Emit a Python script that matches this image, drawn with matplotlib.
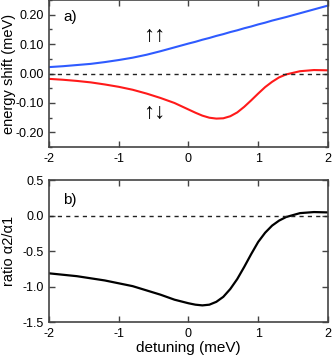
import matplotlib
matplotlib.use("Agg")
import matplotlib.pyplot as plt
from matplotlib.ticker import MultipleLocator

plt.rcParams['font.family'] = ['Liberation Sans', 'DejaVu Sans']
plt.rcParams['axes.unicode_minus'] = False

# detuning (meV)
detuning = [-2.0, -1.8, -1.6, -1.4, -1.2, -1.0, -0.8, -0.6, -0.4, -0.2,
            0.0, 0.1, 0.2, 0.3, 0.4, 0.5, 0.6, 0.7, 0.8, 0.9, 1.0, 1.1,
            1.2, 1.3, 1.4, 1.6, 1.8, 2.0]

# energy shift, parallel spins (meV)
shift_up_up = [0.022, 0.025, 0.029, 0.033, 0.039, 0.046, 0.054, 0.064, 0.076, 0.089,
               0.102, 0.108, 0.115, 0.121, 0.128, 0.134, 0.141, 0.147, 0.154, 0.160, 0.167, 0.173,
               0.180, 0.186, 0.192, 0.205, 0.218, 0.231]

# energy shift, antiparallel spins (meV)
shift_up_down = [-0.018, -0.021, -0.025, -0.030, -0.037, -0.045, -0.055, -0.068, -0.083, -0.100,
                 -0.122, -0.133, -0.143, -0.150, -0.153, -0.152, -0.145, -0.132, -0.113, -0.091, -0.068, -0.046,
                 -0.028, -0.013, -0.003, 0.008, 0.012, 0.011]

# ratio a2/a1
ratio = [-0.81, -0.83, -0.85, -0.88, -0.91, -0.95, -0.99, -1.05, -1.11, -1.18,
         -1.23, -1.25, -1.26, -1.25, -1.21, -1.14, -1.03, -0.89, -0.72, -0.54, -0.37, -0.24,
         -0.14, -0.07, -0.02, 0.035, 0.05, 0.045]

spine_col = "#444444"

fig = plt.figure(figsize=(3.32, 3.58), dpi=100)
ax1 = fig.add_axes([0.1476, 0.589, 0.840, 0.411])
ax2 = fig.add_axes([0.1476, 0.0992, 0.840, 0.3980])

ax1.plot(detuning, shift_up_up, color="#2f5bff", lw=1.5)
ax1.plot(detuning, shift_up_down, color="#ff1a1a", lw=1.5)
ax1.axhline(0, color="#222222", lw=1, ls=(0, (3, 3)))
ax1.set_ylim(-0.25, 0.25)
ax1.set_yticks([-0.2, -0.1, 0.0, 0.1, 0.2])
ax1.set_yticklabels(["-0.20", "-0.10", "0.00", "0.10", "0.20"])
ax1.yaxis.set_minor_locator(MultipleLocator(0.05))
ax1.set_ylabel("energy shift (meV)", fontsize=10.5)
ax1.yaxis.set_label_coords(-0.12, 0.5)
ax1.text(0.05, 0.86, "a)", transform=ax1.transAxes, fontsize=11)
ax1.text(-0.49, 0.128, "↑↑", fontsize=16, ha="center", va="center")
ax1.text(-0.49, -0.132, "↑↓", fontsize=16, ha="center", va="center")

ax2.plot(detuning, ratio, color="black", lw=1.6)
ax2.axhline(0, color="#222222", lw=1, ls=(0, (3, 3)))
ax2.set_ylim(-1.5, 0.5)
ax2.set_yticks([-1.5, -1.0, -0.5, 0.0, 0.5])
ax2.set_yticklabels(["-1.5", "-1.0", "-0.5", "0.0", "0.5"])
ax2.set_ylabel("ratio α2/α1", fontsize=10.5)
ax2.yaxis.set_label_coords(-0.12, 0.5)
ax2.set_xlabel("detuning (meV)", fontsize=11, labelpad=1)
ax2.text(0.05, 0.83, "b)", transform=ax2.transAxes, fontsize=11)

for ax in (ax1, ax2):
    ax.set_xlim(-2, 2)
    ax.set_xticks([-2, -1, 0, 1, 2])
    ax.tick_params(which="both", direction="in", top=True, right=True,
                   labelsize=9, color=spine_col, pad=4)
    ax.tick_params(which="major", length=4, width=1)
    ax.tick_params(which="minor", length=2, width=1)
    for s in ax.spines.values():
        s.set_color(spine_col)
        s.set_linewidth(1.2)

fig.savefig("out.png", dpi=100)
